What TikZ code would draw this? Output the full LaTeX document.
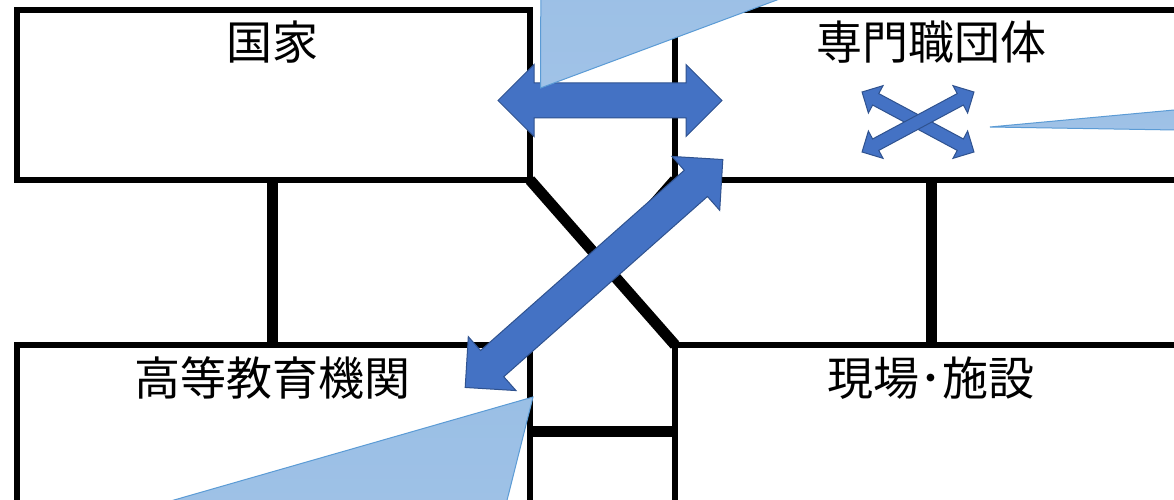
\documentclass[tikz,border=0pt]{standalone}
\usepackage{fontspec}
\newfontfamily\jp{Noto Sans CJK JP}
\definecolor{arrowfill}{HTML}{4472C4}
\definecolor{arrowline}{HTML}{2F528F}
\definecolor{wedgefill}{HTML}{A0C2E7}
\definecolor{wedgetop}{HTML}{9ABFE5}
\definecolor{wedgeline}{HTML}{5B9BD5}
\tikzset{
  boxline/.style={line width=6pt, line join=miter},
  thickline/.style={line width=11pt},
  blarrow/.style={fill=arrowfill, draw=arrowline, line width=1pt, line join=miter},
  wedge/.style={top color=wedgetop, bottom color=wedgefill, draw=wedgeline, line width=1pt},
  label/.style={font=\jp\fontsize{46}{50}\selectfont, inner sep=0pt, anchor=base}
}
% #1 center, #2 angle, #3 length, #4 head length, #5 head half width, #6 shaft half width
\newcommand\dblarrow[6]{%
  \draw[blarrow, shift={#1}, rotate=#2]
    ({-#3/2},0) -- ({-#3/2+#4},#5) -- ({-#3/2+#4},#6) -- ({#3/2-#4},#6)
    -- ({#3/2-#4},#5) -- ({#3/2},0) -- ({#3/2-#4},-#5) -- ({#3/2-#4},-#6)
    -- ({-#3/2+#4},-#6) -- ({-#3/2+#4},-#5) -- cycle;}
\begin{document}
\begin{tikzpicture}[x=1pt,y=-1pt]
\useasboundingbox (0,0) rectangle (1174,500);
\clip (0,0) rectangle (1174,500);
\fill[white] (0,0) rectangle (1174,500);
% boxes
\draw[boxline] (16.5,10) rectangle (530,180);
\draw[boxline] (675,10) rectangle (1220,180);
\draw[boxline] (16.5,345) rectangle (530,540);
\draw[boxline] (675,345) rectangle (1220,540);
% brick separators
\draw[thickline] (272.5,180) -- (272.5,345);
\draw[thickline] (931,180) -- (931,345);
% crossing lines in the middle column
\draw[thickline] (530,180) -- (675,345);
\draw[thickline] (675,180) -- (530,345);
% crossbar in the bottom column
\draw[thickline] (530,431) -- (675,431);
% labels
\node[label] (kokka) at (272.5,60) {国家};
\node[label] (senmon) at (931,60) {専門職団体};
\node[label] (koto) at (272.5,395) {高等教育機関};
\node[label] (genba) at (931,395) {現場･施設};
% block arrows
\dblarrow{(610,100.5)}{0}{224}{36}{36}{17.5}
\dblarrow{(594,273.5)}{41.5}{344}{36}{36}{17.5}
\dblarrow{(918,122)}{-28.2}{127}{15.5}{15.5}{6.5}
\dblarrow{(918,122)}{28.2}{127}{15.5}{15.5}{6.5}
% callout wedges
\draw[wedge] (540.5,88) -- (541,-60) -- (938,-60) -- cycle;
\draw[wedge] (990,127) -- (1250,103) -- (1250,131.2) -- cycle;
\draw[wedge] (533,397) -- (-35,560) -- (492,560) -- cycle;
\end{tikzpicture}
\end{document}
